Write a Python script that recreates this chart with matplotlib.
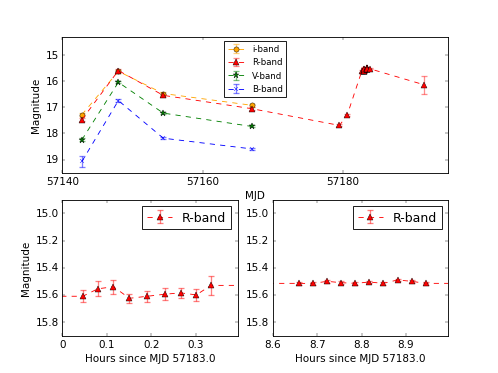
import matplotlib
matplotlib.use('Agg')
import matplotlib.pyplot as plt
import numpy as np
import matplotlib as mpl

mpl.style.use('classic')
mpl.rcParams['axes.formatter.useoffset'] = False

# Data
mjd_ivb = np.array([57142.8, 57148.0, 57154.4, 57167.0])
i_mag = np.array([17.28, 15.62, 16.47, 16.92])
i_err = np.array([0.05, 0.05, 0.05, 0.05])
V_mag = np.array([18.24, 16.04, 17.22, 17.73])
V_err = np.array([0.05, 0.04, 0.04, 0.04])
B_mag = np.array([19.07, 16.74, 18.18, 18.59])
B_err = np.array([0.22, 0.05, 0.05, 0.05])

# R-band sparse points (MJD)
R_mjd = np.array([57142.8, 57148.0, 57154.4, 57167.0, 57179.5, 57180.6,
                  57182.7, 57183.8, 57191.5])
R_mag = np.array([17.47, 15.59, 16.54, 17.05, 17.69, 17.30,
                  15.60, 15.52, 16.13])
R_err = np.array([0.05, 0.05, 0.05, 0.05, 0.04, 0.04,
                  0.04, 0.03, 0.34])

# R-band intra-night points (hours since MJD 57183.0)
n1_hours = np.array([0.046, 0.080, 0.115, 0.151, 0.191, 0.230, 0.266, 0.301, 0.334])
n1_mag = np.array([15.61, 15.555, 15.54, 15.625, 15.61, 15.595, 15.585, 15.60, 15.53])
n1_err = np.array([0.045, 0.055, 0.05, 0.035, 0.04, 0.045, 0.035, 0.045, 0.07])

n2_hours = np.array([8.66, 8.69, 8.722, 8.754, 8.786, 8.817, 8.849, 8.881, 8.913, 8.944])
n2_mag = np.array([15.515, 15.516, 15.50, 15.51, 15.515, 15.505, 15.515, 15.49, 15.50, 15.515])
n2_err = np.array([0.01, 0.01, 0.01, 0.01, 0.01, 0.01, 0.01, 0.01, 0.01, 0.01])

t0 = 57183.0
all_mjd = np.concatenate([R_mjd, t0 + n1_hours/24., t0 + n2_hours/24.])
all_mag = np.concatenate([R_mag, n1_mag, n2_mag])
all_err = np.concatenate([R_err, n1_err, n2_err])
order = np.argsort(all_mjd)
all_mjd, all_mag, all_err = all_mjd[order], all_mag[order], all_err[order]
all_hours = (all_mjd - t0)*24.

ekw = dict(elinewidth=1.5, capsize=4, capthick=1.5)

fig = plt.figure(figsize=(8., 6.))

ax1 = fig.add_subplot(211)
ax1.errorbar(mjd_ivb, i_mag, yerr=i_err, fmt='o--', color='orange',
             ecolor=(1, 0.65, 0, 0.5), label='i-band', **ekw)
ax1.errorbar(all_mjd, all_mag, yerr=all_err, fmt='^--', color='red',
             ecolor=(1, 0, 0, 0.45), label='R-band', **ekw)
ax1.errorbar(mjd_ivb, V_mag, yerr=V_err, fmt='*--', color='green',
             ecolor=(0, 0.5, 0, 0.5), markersize=8, label='V-band', **ekw)
ax1.errorbar(mjd_ivb, B_mag, yerr=B_err, fmt='x--', color='blue',
             ecolor=(0, 0, 1, 0.5), markersize=5, label='B-band', **ekw)
ax1.set_xlim(57140, 57195)
ax1.set_ylim(19.5, 14.3)
ax1.set_xticks([57140, 57160, 57180])
ax1.set_yticks([15, 16, 17, 18, 19])
ax1.set_xlabel('MJD')
ax1.set_ylabel('Magnitude')
ax1.legend(loc='upper center', numpoints=1, fontsize='small')

ax2 = fig.add_subplot(223)
ax2.errorbar(all_hours, all_mag, yerr=all_err, fmt='^--', color='red',
             ecolor=(1, 0, 0, 0.5), label='R-band', **ekw)
ax2.set_xlim(0, 0.394)
ax2.set_ylim(15.9, 14.9)
ax2.set_xticks([0, 0.1, 0.2, 0.3])
ax2.set_xticklabels(['0', '0.1', '0.2', '0.3'])
ax2.set_yticks([15.0, 15.2, 15.4, 15.6, 15.8])
ax2.set_xlabel('Hours since MJD 57183.0')
ax2.set_ylabel('Magnitude')
ax2.legend(loc='upper right', numpoints=1, fontsize='large')

ax3 = fig.add_subplot(224)
ax3.errorbar(all_hours, all_mag, yerr=all_err, fmt='^--', color='red',
             ecolor=(1, 0, 0, 0.5), label='R-band', **ekw)
ax3.set_xlim(8.6, 8.995)
ax3.set_ylim(15.9, 14.9)
ax3.set_xticks([8.6, 8.7, 8.8, 8.9])
ax3.set_yticks([15.0, 15.2, 15.4, 15.6, 15.8])
ax3.set_xlabel('Hours since MJD 57183.0')
ax3.legend(loc='upper right', numpoints=1, fontsize='large')

fig.savefig('out.png', dpi=62.25)
